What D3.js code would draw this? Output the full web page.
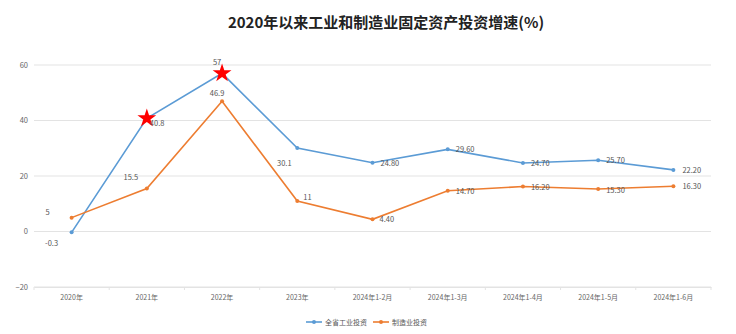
<!DOCTYPE html>
<html>
<head>
<meta charset="utf-8">
<script src="https://cdn.jsdelivr.net/npm/d3@7"></script>
<style>
  html, body { margin: 0; padding: 0; background: #fff; }
  svg { display: block; font-family: "Noto Sans CJK SC", "Noto Sans", sans-serif; }
</style>
</head>
<body>
<svg id="chart" width="736" height="334"></svg>
<script>
// Periods and growth rates (%)
const categories = ["2020年", "2021年", "2022年", "2023年", "2024年1-2月", "2024年1-3月", "2024年1-4月", "2024年1-5月", "2024年1-6月"];
const industryInvest = [-0.3, 40.8, 57, 30.1, 24.80, 29.60, 24.70, 25.70, 22.20];
const industryLabels = ["-0.3", "40.8", "57", "30.1", "24.80", "29.60", "24.70", "25.70", "22.20"];
const manufInvest = [5, 15.5, 46.9, 11, 4.40, 14.70, 16.20, 15.30, 16.30];
const manufLabels = ["5", "15.5", "46.9", "11", "4.40", "14.70", "16.20", "15.30", "16.30"];
const yTicks = [-20, 0, 20, 40, 60];
const seriesNames = ["全省工业投资", "制造业投资"];
const starredPoints = [1, 2]; // highlighted industry points

// Label placement: [dx, dy, anchor]
const industryLabelPos = [[-20, 14, "middle"], [3, 8, "start"], [-5, -8, "middle"], [-13, 18, "middle"],
  [8, 3, "start"], [8, 3, "start"], [8, 3, "start"], [8, 3, "start"], [9, 3, "start"]];
const manufLabelPos = [[-24, -3, "middle"], [-16, -8, "middle"], [-5, -5, "middle"], [6, -1, "start"],
  [7, 3, "start"], [8, 3, "start"], [8, 3, "start"], [8, 4, "start"], [9, 3, "start"]];

const colors = ["#5B9BD5", "#ED7D31"];
const svg = d3.select("#chart");
const margin = { left: 34, right: 25, top: 65, bottom: 47 };
const W = 736, H = 334;

const x = d3.scaleBand().domain(categories).range([margin.left, W - margin.right]);
const y = d3.scaleLinear().domain([-20, 60]).range([H - margin.bottom, margin.top]);
const cx = d => x(d) + x.bandwidth() / 2;

// Title
svg.append("text")
  .attr("x", 386).attr("y", 28)
  .attr("text-anchor", "middle")
  .attr("font-size", 15).attr("font-weight", 700)
  .attr("fill", "#222")
  .text("2020年以来工业和制造业固定资产投资增速(%)");

// Grid lines
svg.append("g").selectAll("line").data(yTicks).join("line")
  .attr("x1", margin.left).attr("x2", W - margin.right)
  .attr("y1", d => y(d)).attr("y2", d => y(d))
  .attr("stroke", "#e3e3e3").attr("stroke-width", 1);

// Y axis labels
const yAxis = d3.axisLeft(y).tickValues(yTicks).tickSize(0).tickPadding(6);
svg.append("g").attr("transform", `translate(${margin.left},0)`).call(yAxis)
  .call(g => g.select(".domain").remove())
  .call(g => g.selectAll("text").attr("font-size", 7.5).attr("fill", "#666").attr("font-family", "'Noto Sans CJK SC', sans-serif"));

// X axis
const xAxis = d3.axisBottom(x).tickSize(0).tickPadding(8);
const gx = svg.append("g").attr("transform", `translate(0,${y(-20)})`).call(xAxis);
gx.select(".domain").attr("stroke", "#e3e3e3");
gx.selectAll("text").attr("font-size", 7).attr("fill", "#666").attr("font-family", "'Noto Sans CJK SC', sans-serif");
// boundary ticks between categories
gx.append("g").selectAll("line").data(categories.concat([null])).join("line")
  .attr("x1", (d, i) => margin.left + i * x.step()).attr("x2", (d, i) => margin.left + i * x.step())
  .attr("y1", 0).attr("y2", 3).attr("stroke", "#e3e3e3");

const line = d3.line().x((d, i) => cx(categories[i])).y(d => y(d));
const labelLayer = [];

[[industryInvest, industryLabels, industryLabelPos], [manufInvest, manufLabels, manufLabelPos]].forEach(([vals, labs, pos], s) => {
  svg.append("path").datum(vals)
    .attr("d", line).attr("fill", "none")
    .attr("stroke", colors[s]).attr("stroke-width", 1.6);
  svg.append("g").selectAll("circle").data(vals).join("circle")
    .attr("cx", (d, i) => cx(categories[i])).attr("cy", d => y(d))
    .attr("r", 2).attr("fill", colors[s]);
  labelLayer.push([vals, labs, pos]);
});

// Red stars on highlighted points
const star = d3.symbol().type(d3.symbolStar).size(110);
svg.append("g").selectAll("path").data(starredPoints).join("path")
  .attr("d", star)
  .attr("transform", i => `translate(${cx(categories[i])},${y(industryInvest[i])})`)
  .attr("fill", "#ff0000");

// Data labels on top
labelLayer.forEach(([vals, labs, pos]) => {
  svg.append("g").selectAll("text").data(vals).join("text")
    .attr("x", (d, i) => cx(categories[i]) + pos[i][0])
    .attr("y", (d, i) => y(d) + pos[i][1])
    .attr("text-anchor", (d, i) => pos[i][2])
    .attr("font-size", 7.5).attr("fill", "#555")
    .text((d, i) => labs[i]);
});

// Legend
const legend = svg.append("g").attr("transform", "translate(306,322)");
const legendX = [0, 67];
seriesNames.forEach((name, s) => {
  const g = legend.append("g").attr("transform", `translate(${legendX[s]},0)`);
  g.append("line").attr("x1", 0).attr("x2", 16).attr("y1", 0).attr("y2", 0)
    .attr("stroke", colors[s]).attr("stroke-width", 1.6);
  g.append("circle").attr("cx", 8).attr("cy", 0).attr("r", 2).attr("fill", colors[s]);
  g.append("text").attr("x", 19).attr("y", 2.5).attr("font-size", 7).attr("fill", "#555").text(name);
});
</script>
</body>
</html>
